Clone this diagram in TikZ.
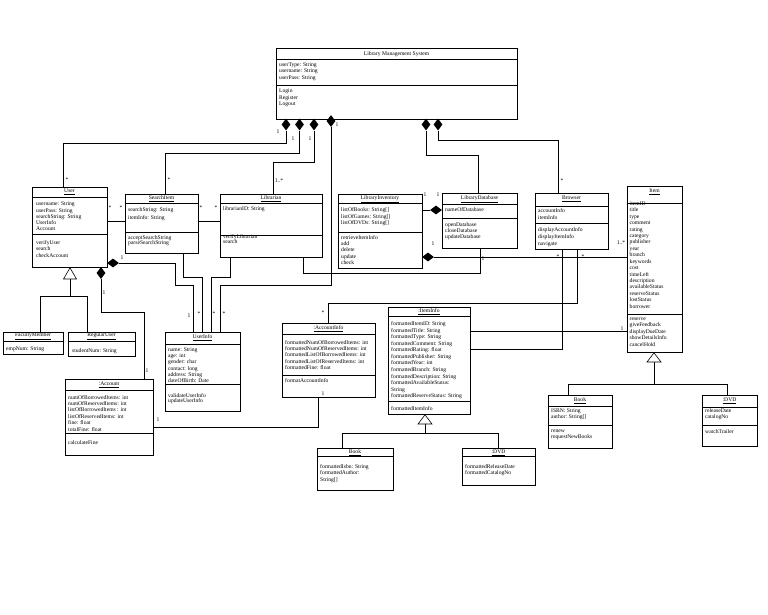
\documentclass[tikz,border=0pt]{standalone}
\usepackage{fontspec}
\setmainfont{Liberation Serif}
\usetikzlibrary{shapes.geometric}
\tikzset{
 cls/.style={draw, line width=0.8pt, inner sep=0, anchor=north west},
 sepl/.style={line width=0.8pt},
 txt/.style={font=\fontsize{5.6}{6.4}\selectfont, inner sep=0, anchor=north west, align=left},
 ttl/.style={font=\fontsize{5.6}{6.4}\selectfont, inner sep=0},
 lab/.style={font=\fontsize{5.6}{6.4}\selectfont, inner sep=0},
 con/.style={line width=0.8pt},
 vdia/.style={diamond, fill=black, inner sep=0, minimum width=9pt, minimum height=12pt},
 hdia/.style={diamond, fill=black, inner sep=0, minimum width=12pt, minimum height=9pt},
 tri/.style={draw, fill=white, line width=0.6pt},
}
% name x1 y1 x2 y2 title titley sep1 sep2
\newcommand\uclass[9]{%
  \node[cls, minimum width={(#4-#2)*1pt}, minimum height={(#5-#3)*1pt}] (#1) at (#2,#3) {};
  \node[ttl] (#1-title) at ({(#2+#4)/2},#7) {#6};
  \draw[sepl] (#2,#8) -- (#4,#8);
  \ifx\relax#9\relax\else\draw[sepl] (#2,#9) -- (#4,#9);\fi
}
\begin{document}
\begin{tikzpicture}[x=1pt,y=-1pt]
\fill[white] (0,0) rectangle (768,614);
\useasboundingbox (0,0) rectangle (768,614);

% ---------- classes ----------
\uclass{lms}{276}{48}{517}{119}{Library Management System}{54}{59.5}{85}
\node[txt] (lms-a) at (279,62.5) {userType: String\\username: String\\userPass: String};
\node[txt] (lms-m) at (279,89) {Login\\Register\\Logout};

\uclass{user}{32}{187}{107}{267}{\underline{User}}{192}{197}{234}
\node[txt, font=\fontsize{5.6}{6.2}\selectfont] (user-a) at (36,202) {username: String\\userPass: String\\searchString: String\\UserInfo\\Account};
\node[txt, font=\fontsize{5.6}{6.2}\selectfont] (user-m) at (36,240.5) {verifyUser\\search\\checkAccount};

\uclass{search}{125}{194}{198}{253}{\underline{SearchItem}}{198.5}{203}{232}
\node[txt, font=\fontsize{5.6}{7.5}\selectfont] (search-a) at (128,207.5) {searchString: String\\itemInfo: String};
\node[txt, font=\fontsize{5.6}{5.8}\selectfont] (search-m) at (128,235) {acceptSearchString\\parseSearchString};

\uclass{libn}{220}{194}{322}{257}{\underline{Librarian}}{198.5}{203}{235}
\node[txt] (libn-a) at (223,206.5) {librarianID: String};
\node[txt, font=\fontsize{5.6}{5.8}\selectfont] (libn-m) at (223,234) {verifyLibrarian\\search};

\uclass{inv}{338}{194}{422}{268}{\underline{LibraryInventory}}{199}{203}{232}
\node[txt, font=\fontsize{5.6}{6.6}\selectfont] (inv-a) at (341,207.5) {listOfBooks: String[]\\listOfGames: String[]\\listOfDVDs: String[]};
\node[txt] (inv-m) at (341,235) {retrieveItemInfo\\add\\delete\\update\\check};

\uclass{db}{442}{193}{517}{248}{\underline{LibraryDatabase}}{199}{204}{218}
\node[txt] (db-a) at (445,207.5) {nameOfDatabase};
\node[txt, font=\fontsize{5.6}{6.2}\selectfont] (db-m) at (445,222) {openDatabase\\closeDatabase\\updateDatabase};

\uclass{brw}{535}{193}{608}{249}{\underline{Browser}}{199}{206.5}{223.5}
\node[txt, font=\fontsize{5.6}{6.7}\selectfont] (brw-a) at (538,208.5) {accountInfo\\itemInfo};
\node[txt, font=\fontsize{5.6}{6.7}\selectfont] (brw-m) at (538,227.5) {displayAccountInfo\\displayItemInfo\\navigate};

\uclass{item}{627}{186}{682}{352}{\underline{Item}}{192}{203}{314}
\node[txt, font=\fontsize{5.6}{6.42}\selectfont] (item-a) at (629.5,201.5) {itemID\\title\\type\\comment\\rating\\category\\publisher\\year\\branch\\keywords\\cost\\timeLeft\\description\\availableStatus\\reserveStatus\\lostStatus\\borrower};
\node[txt, font=\fontsize{5.6}{6.42}\selectfont] (item-m) at (629.5,317.5) {reserve\\giveFeedback\\displayDueDate\\showDetailsInfo\\cancelHold};

\uclass{fac}{3}{332}{63}{354}{\underline{FacultyMember}}{336.3}{341}{}
\node[txt] (fac-a) at (6,347) {empNum: String};

\uclass{reg}{68}{332}{135}{356}{\underline{RegularUser}}{336.5}{341}{}
\node[txt] (reg-a) at (72,348) {studentNum: String};

\uclass{acc}{65}{379}{153}{455}{\underline{:Account}}{384.5}{390}{433}
\node[txt, font=\fontsize{5.6}{6.4}\selectfont] (acc-a) at (68,395) {numOfBorrowedItems: int\\numOfReservedItems: int\\listOfBorrowedItems : int\\listOfReservedItems: int\\fine: float\\totalFine: float};
\node[txt] (acc-m) at (68,440) {calculateFine};

\uclass{uinfo}{165}{332}{240}{411}{\underline{UserInfo}}{338}{344}{384}
\node[txt, font=\fontsize{5.6}{6.2}\selectfont] (uinfo-a) at (168,347.5) {name: String\\age: int\\gender: char\\contact: long\\address: String\\dateOfBirth: Date};
\node[txt, font=\fontsize{5.6}{5.6}\selectfont] (uinfo-m) at (168,393) {validateUserInfo\\updateUserInfo};

\uclass{ainfo}{282}{323}{375}{397}{\underline{:AccountInfo}}{329}{334.5}{375}
\node[txt] (ainfo-a) at (285,340) {formattedNumOfBorrowedItems: int\\formattedNumOfReservedItems: int\\formattedListOfBorrowedItems: int\\formattedListOfReservedItems: int\\formattedFine: float};
\node[txt] (ainfo-m) at (285,378.5) {formatAccountInfo};

\uclass{iinfo}{388}{307}{470}{414}{\underline{:ItemInfo}}{311.5}{316}{401.5}
\node[txt, font=\fontsize{5.6}{6.55}\selectfont] (iinfo-a) at (391,321.5) {formattedItemID: String\\formattedTitle: String\\formattedType: String\\formattedComment: String\\formattedRating: float\\formattedPublisher: String\\formattedYear: int\\formattedBranch: String\\formattedDescription: String\\formattedAvailableStatus:\\String\\formattedReserveStatus: String};
\node[txt] (iinfo-m) at (391,406) {formattedItemInfo};

\uclass{ibook}{317}{448}{393}{490}{\underline{Book}}{452.5}{456.7}{}
\node[txt, font=\fontsize{5.6}{6.6}\selectfont] (ibook-a) at (320,464) {formattedIsbn: String\\formattedAuthor:\\String[]};

\uclass{idvd}{462}{448}{535}{485}{\underline{:DVD}}{452.5}{456.7}{}
\node[txt, font=\fontsize{5.6}{6.6}\selectfont] (idvd-a) at (465,464) {formattedReleaseDate\\formattedCatalogNo};

\uclass{rbook}{548}{395}{612}{448}{\underline{Book}}{400.5}{406.7}{425.7}
\node[txt, font=\fontsize{5.6}{5.6}\selectfont] (rbook-a) at (551,408.5) {ISBN: String\\author: String[]};
\node[txt, font=\fontsize{5.6}{5.6}\selectfont] (rbook-m) at (551,430) {renew\\requestNewBooks};

\uclass{rdvd}{702}{395}{757}{446}{\underline{:DVD}}{400.5}{407.7}{425}
\node[txt, font=\fontsize{5.6}{5.8}\selectfont] (rdvd-a) at (705,408.5) {releaseDate\\catalogNo};
\node[txt] (rdvd-m) at (705,429) {watchTrailer};

% ---------- diamonds ----------
\node[vdia] (d1) at (286,124.5) {};
\node[vdia] (d2) at (299.5,124.5) {};
\node[vdia] (d3) at (314,124.5) {};
\node[vdia] (d4) at (331,121) {};
\node[vdia] (d5) at (426,124.5) {};
\node[vdia] (d6) at (438,124.5) {};
\node[hdia] (du1) at (113,263) {};
\node[vdia] (du2) at (101,273) {};
\node[hdia] (ddb) at (436,210) {};
\node[hdia] (dinv) at (428,257) {};

% ---------- composition / association connectors ----------
\draw[con] (d1.south) |- (63,143) -- (user.north -| 63,0);
\draw[con] (d2.south) |- (165,153) -- (search.north -| 165,0);
\draw[con] (d3.south) |- (273,162) -- (libn.north -| 273,0);
\draw[con] (d4.south) |- (220,285) -- (uinfo.north -| 220,0);
\draw[con] (d5.south) |- (478,155) -- (db.north -| 478,0);
\draw[con] (d6.south) |- (558,140) -- (brw.north -| 558,0);
\draw[con] (du1.east) -| (175,285) -| (uinfo.north -| 193,0);
\draw[con] (du2.south) |- (144,312) -- (acc.north -| 144,0);
\draw[con] (user.east |- 0,221) -- (search.west |- 0,221);
\draw[con] (search.east |- 0,221) -- (libn.west |- 0,221);
\draw[con] (search.south -| 183,0) |- (202,277) -- (uinfo.north -| 202,0);
\draw[con] (libn.south -| 230,0) |- (211,277) -- (uinfo.north -| 211,0);
\draw[con] (libn.south -| 303,0) |- (480,273) -- (db.south -| 480,0);
\draw[con] (dinv.east) -- (item.west |- dinv.east);
\draw[con] (inv.east |- ddb.west) -- (ddb.west);
\draw[con] (brw.south -| 577,0) |- (328,303) -- (ainfo.north -| 328,0);
\draw[con] (brw.south -| 562,0) |- (iinfo.east |- 0,349);
\draw[con] (iinfo.east |- 0,331) -- (item.west |- 0,331);
\draw[con] (acc.east |- 0,427) -| (ainfo.south -| 318,0);

% ---------- generalisations ----------
\coordinate (tu) at (70,279);
\coordinate (ti) at (425,424);
\coordinate (tit) at (654,362);
\draw[con] (tu) -- (70,296);
\draw[con] (fac.north -| 40,0) -- (40,296) -- (87,296) -- (reg.north -| 87,0);
\draw[tri] (user.south -| 70,0) -- (63.5,279) -- (76.5,279) -- cycle;
\draw[con] (ti) -- (425,433);
\draw[con] (ibook.north -| 342,0) -- (342,433) -- (498,433) -- (idvd.north -| 498,0);
\draw[tri] (iinfo.south -| 425,0) -- (418,424) -- (432,424) -- cycle;
\draw[con] (tit) -- (654,384);
\draw[con] (rbook.north -| 568,0) -- (568,384) -- (727,384) -- (rdvd.north -| 727,0);
\draw[tri] (item.south -| 654,0) -- (647,362) -- (661,362) -- cycle;

% ---------- multiplicities ----------
\node[lab] (m1) at (278,132) {1};
\node[lab] (m2) at (293,139) {1};
\node[lab] (m3) at (310,139) {1};
\node[lab] (m4) at (337,125) {1};
\node[lab] (m5) at (67,180) {*};
\node[lab] (m6) at (169,180) {*};
\node[lab] (m7) at (279,181) {1..*};
\node[lab] (m8) at (562,181) {*};
\node[lab] (m9) at (224,314) {*};
\node[lab] (m10) at (214,314) {*};
\node[lab] (m11) at (199,314) {*};
\node[lab] (m12) at (189,316) {1};
\node[lab] (m13) at (122,258) {1};
\node[lab] (m14) at (104,293) {1};
\node[lab] (m15) at (147,371) {1};
\node[lab] (m16) at (110,208) {*};
\node[lab] (m17) at (121,208) {*};
\node[lab] (m18) at (201,208) {*};
\node[lab] (m19) at (216,208) {*};
\node[lab] (m20) at (425,195) {1};
\node[lab] (m21) at (438,195) {1};
\node[lab] (m22) at (433,244) {1};
\node[lab] (m23) at (483,259) {1};
\node[lab] (m24) at (621,243) {1..*};
\node[lab] (m25) at (622,329) {1};
\node[lab] (m26) at (583,257) {*};
\node[lab] (m27) at (558,257) {*};
\node[lab] (m28) at (323,313) {*};
\node[lab] (m29) at (158,420) {1};
\node[lab] (m30) at (323,394) {1};
\end{tikzpicture}
\end{document}
